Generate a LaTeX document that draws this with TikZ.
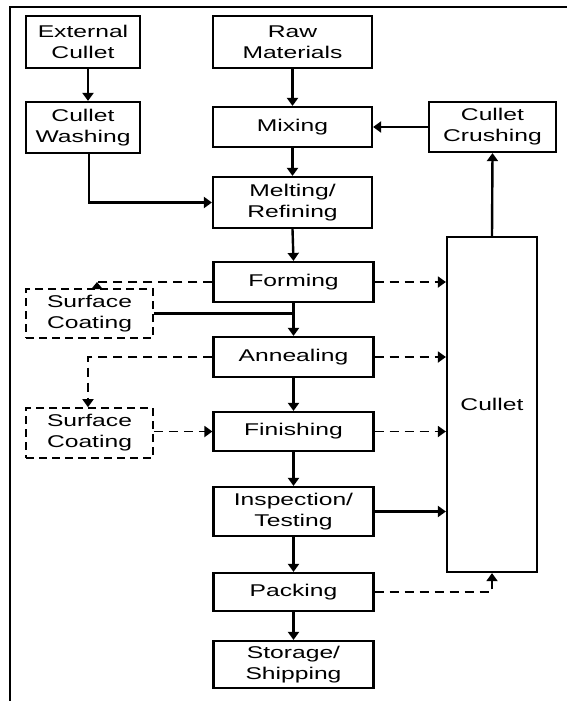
\documentclass[tikz,border=0pt]{standalone}
\usepackage{fontspec}
\setmainfont{Liberation Sans}[FakeStretch=1.45]
\usetikzlibrary{arrows.meta}
\begin{document}
\begin{tikzpicture}[x=1pt,y=-1pt,
  box/.style={draw,line width=2.2pt,inner sep=0pt,align=center,
    font=\fontsize{17}{21}\selectfont},
  dbox/.style={box,dashed,line width=1.6pt,dash pattern=on 8pt off 5pt},
  arr/.style={line width=2.4pt,-{Triangle[width=11pt,length=8pt]}},
  ln/.style={line width=2.4pt},
  darr/.style={line width=1.8pt,dash pattern=on 9pt off 6pt,-{Triangle[width=11pt,length=8pt]}},
  dln/.style={line width=1.8pt,dash pattern=on 9pt off 6pt}]
\useasboundingbox (0,0) rectangle (567,701);
\draw[line width=2pt] (10,701) -- (10,7) -- (567,7);
% nodes
\node[box,minimum width=114pt,minimum height=52pt] (ext) at (83,42) {External\\Cullet};
\node[box,minimum width=159pt,minimum height=52pt] (raw) at (292.5,42) {Raw\\Materials};
\node[box,minimum width=114pt,minimum height=51pt] (wash) at (83,127.5) {Cullet\\Washing};
\node[box,minimum width=159pt,minimum height=40pt] (mix) at (292.5,127) {Mixing};
\node[box,minimum width=127pt,minimum height=50pt] (crush) at (492.5,127) {Cullet\\Crushing};
\node[box,minimum width=159pt,minimum height=51pt] (melt) at (292.5,202.5) {Melting/\\Refining};
\node[box,minimum width=160pt,minimum height=40pt] (form) at (293.5,282) {Forming};
\node[box,minimum width=160pt,minimum height=40pt] (ann) at (293.5,357) {Annealing};
\node[box,minimum width=160pt,minimum height=39pt] (fin) at (293.5,431.5) {Finishing};
\node[box,minimum width=160pt,minimum height=49pt] (insp) at (293.5,511.5) {Inspection/\\Testing};
\node[box,minimum width=160pt,minimum height=38pt] (pack) at (293.5,592) {Packing};
\node[box,minimum width=160pt,minimum height=47pt] (stor) at (293.5,664.5) {Storage/\\Shipping};
\node[box,minimum width=90pt,minimum height=335pt] (cul) at (492,404.5) {Cullet};
\node[dbox,minimum width=127pt,minimum height=49pt] (sc1) at (89.5,313.5) {Surface\\Coating};
\node[dbox,minimum width=127pt,minimum height=50pt] (sc2) at (89.5,433) {Surface\\Coating};
\coordinate (c1) at (97,282);
% solid arrows
\draw[arr] ([xshift=5pt]ext.south) -- ([xshift=5pt]wash.north);
\draw[arr] ([xshift=6pt]wash.south) |- (melt.west);
\draw[arr] (raw.south) -- (mix.north);
\draw[arr] (mix.south) -- (melt.north);
\draw[arr] (crush.west) -- (mix.east);
\draw[arr] (cul.north) -- (crush.south);
\draw[arr] (melt.south) -- (form.north);
\draw[arr] (form.south) -- (ann.north);
\draw[ln] (sc1.east) -- (sc1.east -| ann.north);
\draw[arr] (ann.south) -- (fin.north);
\draw[arr] (fin.south) -- (insp.north);
\draw[arr] (insp.east) -- (insp.east -| cul.west);
\draw[arr] (insp.south) -- (pack.north);
\draw[arr] (pack.south) -- (stor.north);
% dashed arrows
\draw[darr] (form.east) -- (form.east -| cul.west);
\draw[darr] (ann.east) -- (ann.east -| cul.west);
\draw[darr] (fin.east) -- (fin.east -| cul.west);
\draw[darr] (pack.east) -| (cul.south);
\draw[dln] (form.west) -- (c1);
\draw[line width=1.8pt,-{Triangle[width=11pt,length=7pt]}] (c1 |- sc1.north) -- (c1);
\draw[darr] (ann.west) -| ([xshift=-1.5pt]sc2.north);
\draw[darr] (sc2.east |- fin.west) -- (fin.west);
\end{tikzpicture}
\end{document}
